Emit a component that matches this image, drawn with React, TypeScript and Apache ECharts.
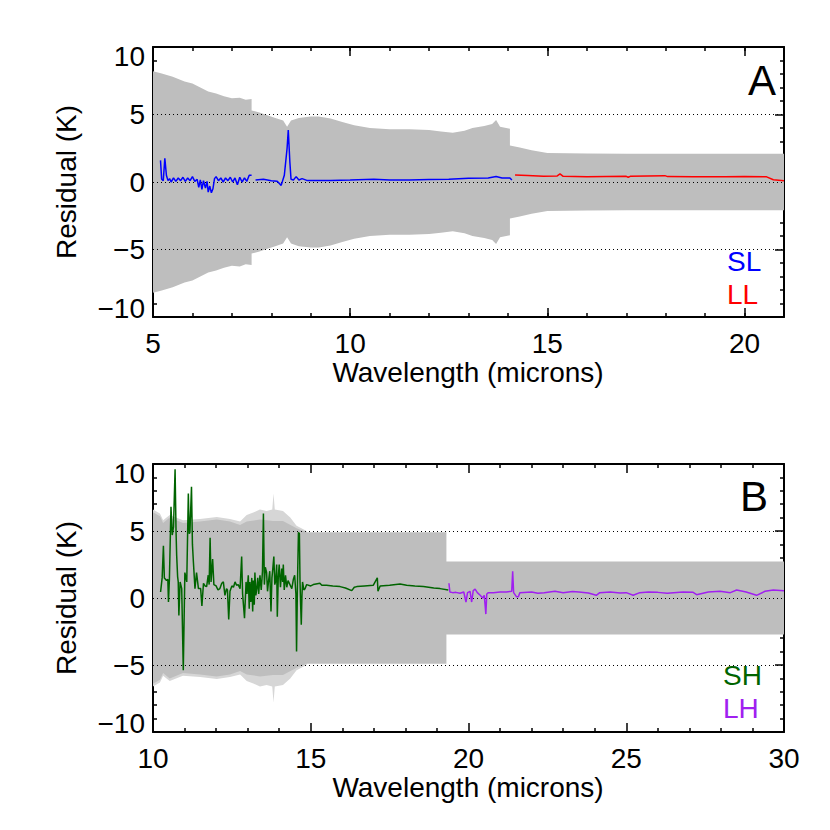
import React, { useEffect, useRef } from "react";
import * as echarts from "echarts";

// ---------- Panel A ----------
const bandA_wl = [5.0, 5.2, 5.5, 5.8, 6.0, 6.2, 6.4, 6.6, 6.8, 7.0, 7.2, 7.35, 7.5, 7.5, 7.7, 7.9, 8.1, 8.3, 8.4, 8.5, 8.7, 9.0, 9.2, 9.5, 9.8, 10.1, 10.5, 11.0, 11.5, 12.0, 12.3, 12.6, 12.9, 13.1, 13.4, 13.6, 13.7, 13.8, 14.05, 14.05, 14.3, 14.6, 15.0, 16.0, 17.0, 18.0, 19.0, 20.0, 21.0];
const bandA_err = [8.2, 8.05, 7.8, 7.45, 7.3, 7.0, 6.7, 6.55, 6.35, 6.2, 6.25, 6.1, 6.15, 5.3, 5.15, 4.95, 4.75, 4.55, 4.1, 4.55, 4.75, 4.85, 4.85, 4.7, 4.45, 4.2, 4.0, 3.9, 3.9, 3.85, 3.75, 3.65, 3.8, 4.0, 4.15, 4.3, 4.6, 4.1, 3.95, 2.7, 2.55, 2.35, 2.15, 2.12, 2.1, 2.1, 2.1, 2.1, 2.1];

const sl_wl = [5.19, 5.22, 5.26, 5.30, 5.34, 5.38, 5.42, 5.46, 5.52, 5.58, 5.64, 5.70, 5.76, 5.82, 5.88, 5.94, 6.00, 6.06, 6.12, 6.16, 6.20, 6.24, 6.28, 6.33, 6.37, 6.40, 6.44, 6.48, 6.52, 6.56, 6.60, 6.66, 6.72, 6.78, 6.84, 6.90, 6.96, 7.02, 7.08, 7.14, 7.20, 7.26, 7.32, 7.38, 7.44, 7.50,
  7.55,
  7.60, 7.8, 8.0, 8.15, 8.25, 8.33, 8.40, 8.43, 8.47, 8.50, 8.56, 8.63, 8.70, 8.78, 8.90, 9.5, 10.0, 10.6, 11.0, 11.5, 12.0, 12.5, 13.0, 13.5, 13.7, 13.85, 14.05, 14.1];
const sl_val = [1.6, 0.2, 0.1, 1.75, 0.5, 0.1, 0.25, 0.0, 0.3, 0.05, 0.3, 0.1, 0.35, 0.05, 0.3, 0.1, 0.4, 0.05, 0.2, -0.4, 0.15, -0.55, 0.1, -0.45, 0.05, -0.75, -0.3, -0.8, -0.5, 0.25, 0.4, 0.1, 0.3, 0.0, 0.3, 0.1, 0.35, 0.0, 0.3, -0.2, 0.35, 0.0, 0.3, 0.05, 0.5, 0.5,
  null,
  0.15, 0.2, 0.1, 0.05, -0.25, 0.5, 2.5, 3.85, 1.5, 0.2, 0.15, 0.4, 0.15, 0.25, 0.12, 0.12, 0.15, 0.2, 0.15, 0.15, 0.18, 0.2, 0.28, 0.3, 0.4, 0.3, 0.3, 0.15];

const ll_wl = [14.18, 14.5, 14.9, 15.25, 15.32, 15.4, 16.0, 16.5, 17.0, 17.05, 17.1, 17.98, 18.05, 18.7, 19.5, 20.0, 20.56, 20.73, 21.0];
const ll_val = [0.52, 0.48, 0.42, 0.45, 0.6, 0.42, 0.38, 0.4, 0.42, 0.35, 0.42, 0.47, 0.4, 0.38, 0.38, 0.4, 0.38, 0.17, 0.1];

// ---------- Panel B ----------
const bandBouter_wl = [10.0, 10.22, 10.32, 10.53, 10.95, 11.49, 12.02, 12.44, 12.76, 12.97, 13.2, 13.39, 13.6, 13.78, 13.82, 13.86, 14.12, 14.35, 14.55, 14.87];
const bandBouter_err = [6.6, 6.3, 5.8, 6.2, 5.8, 5.9, 6.05, 5.9, 5.7, 6.2, 6.4, 6.6, 6.5, 6.6, 7.8, 6.6, 6.5, 6.0, 5.4, 5.0];

const bandB_wl = [10.0, 10.22, 10.32, 10.53, 10.95, 11.49, 12.02, 12.44, 12.76, 12.97, 13.39, 13.8, 14.12, 14.55, 14.87, 19.3, 19.3, 30.0];
const bandB_err = [6.4, 6.1, 5.6, 6.0, 5.6, 5.7, 5.85, 5.7, 5.45, 5.7, 5.85, 5.75, 5.75, 5.2, 4.9, 4.9, 2.72, 2.72];

const sh_wl = [10.24, 10.29, 10.33, 10.36, 10.43, 10.47, 10.49, 10.52, 10.57, 10.61, 10.65, 10.70, 10.73, 10.75, 10.78, 10.80, 10.82, 10.86, 10.91, 10.96, 11.01, 11.07, 11.12, 11.15, 11.17, 11.22, 11.25, 11.28, 11.33, 11.38, 11.44, 11.51, 11.55, 11.60, 11.65, 11.70, 11.75, 11.78, 11.81, 11.84, 11.89, 11.93, 12.0, 12.06, 12.12, 12.18, 12.23, 12.28, 12.33, 12.36, 12.40, 12.44, 12.5, 12.55, 12.6, 12.65, 12.7, 12.76, 12.81, 12.84, 12.90, 12.95, 12.98, 13.02, 13.05, 13.07, 13.10, 13.13, 13.16, 13.18, 13.21, 13.23, 13.26, 13.29, 13.32, 13.35, 13.39, 13.43, 13.47, 13.50, 13.53, 13.56, 13.60, 13.63, 13.66, 13.70, 13.74, 13.77, 13.79, 13.83, 13.86, 13.89, 13.92, 13.94, 13.97, 14.0, 14.04, 14.08, 14.11, 14.13, 14.16, 14.20, 14.24, 14.28, 14.34, 14.40, 14.45, 14.49, 14.53, 14.55, 14.58, 14.61, 14.64, 14.66, 14.68, 14.70, 14.72, 14.74, 14.78, 14.82, 14.87, 15.0, 15.08, 15.29, 15.35, 15.5, 15.7, 15.93, 16.1, 16.3, 16.38, 16.46, 16.7, 16.98, 17.11, 17.13, 17.2, 17.5, 17.83, 18.04, 18.3, 18.57, 18.9, 19.1, 19.36];
const sh_val = [0.45, 1.5, 3.9, 1.5, 1.3, 1.4, -0.3, 1.4, 6.8, 4.7, 5.3, 9.6, 5.0, 3.2, 1.6, 1.2, -1.3, 1.2, 0.7, -5.4, 1.9, 1.2, 7.8, 4.8, 4.9, 8.3, 4.0, 2.7, 0.7, 1.9, 0.7, 0.7, -0.6, 1.1, 0.9, 0.85, 1.7, 1.0, 4.5, 1.2, 2.9, 1.0, 0.9, 0.6, 0.7, 1.1, 1.2, 0.2, 0.7, 0.6, -1.6, 0.5, 0.9, 0.8, 1.2, 0.95, 1.0, 0.7, 3.1, 0.3, -1.5, 1.2, 0.3, 1.7, -0.8, 1.2, -0.3, 1.5, -1.0, 1.3, -0.5, 1.9, 0.2, 0.7, 1.5, 0.3, 1.7, 0.6, 2.0, 6.3, 1.0, 2.3, 1.9, 0.5, 1.2, 2.0, -1.0, 1.5, 2.0, 3.1, 1.0, 1.3, 2.5, -1.4, 1.5, 2.5, 0.8, 2.2, 1.2, 2.5, 0.6, 1.7, 0.8, 1.3, 1.0, 0.7, 1.4, 1.7, 0.3, -4.0, 1.2, 4.9, 4.8, 1.2, -0.5, -2.0, 0.1, 1.2, 0.6, 0.7, 1.0, 0.9, 1.0, 1.1, 0.95, 0.95, 0.9, 0.85, 0.75, 0.55, 0.8, 0.85, 0.9, 0.95, 1.5, 0.5, 0.9, 0.95, 1.05, 0.95, 0.9, 0.85, 0.75, 0.7, 0.6];

const lh_wl = [19.38, 19.41, 19.5, 19.6, 19.73, 19.85, 19.92, 19.97, 20.05, 20.10, 20.15, 20.21, 20.28, 20.37, 20.45, 20.5, 20.55, 20.58, 20.63, 20.79, 21.0, 21.2, 21.37, 21.4, 21.43, 21.52, 21.58, 21.63, 22.0, 22.2, 22.4, 22.74, 23.0, 23.3, 23.5, 23.8, 24.05, 24.16, 24.5, 24.8, 25.0, 25.22, 25.43, 25.7, 26.0, 26.3, 26.5, 26.8, 27.12, 27.23, 27.6, 27.97, 28.3, 28.5, 28.8, 29.13, 29.4, 29.66, 30.0];
const lh_val = [1.1, 0.45, 0.4, 0.42, 0.35, 0.45, -0.3, 0.4, 0.5, -0.3, 0.55, 0.67, 0.4, 0.2, 0.0, 0.2, -1.2, 0.3, 0.4, 0.4, 0.45, 0.45, 0.5, 2.0, 0.4, 0.1, 0.1, 0.4, 0.45, 0.35, 0.4, 0.5, 0.4, 0.48, 0.45, 0.38, 0.2, 0.4, 0.45, 0.38, 0.4, 0.2, 0.4, 0.45, 0.42, 0.35, 0.4, 0.45, 0.42, 0.25, 0.45, 0.5, 0.4, 0.6, 0.45, 0.2, 0.5, 0.6, 0.55];

const yTicks = [-10, -5, 0, 5, 10];
const dottedLevels = [-5, 0, 5];

const FONT = "'Liberation Sans', Arial, Helvetica, sans-serif";
const BAND = "#bebebe";
const BAND_FUZZ = "#d6d6d6";

const zip = (xs: number[], ys: (number | null)[]) => xs.map((x, i) => [x, ys[i]]);
const neg = (ys: number[]) => ys.map((v) => -v);

function xAxisDef(gridIndex: number, min: number, max: number, position: string, labels: boolean, minor: boolean, interval = 5, tickLen = 9) {
  return {
    type: "value",
    gridIndex,
    min,
    max,
    interval,
    position,
    axisLine: { show: tickLen === 9, onZero: false, lineStyle: { color: "#000", width: 2 } },
    axisTick: { show: true, inside: true, length: tickLen, lineStyle: { color: "#000", width: 1.5 } },
    minorTick: { show: minor, splitNumber: 5, length: 4, lineStyle: { color: "#000", width: 1.5 } },
    axisLabel: {
      show: labels,
      color: "#000",
      fontSize: 28,
      fontFamily: FONT,
      margin: 12,
      showMaxLabel: max % interval === 0,
    },
    splitLine: { show: false },
  };
}

function yAxisDef(gridIndex: number, position: string, labels: boolean) {
  return {
    type: "value",
    gridIndex,
    min: yTicks[0],
    max: yTicks[yTicks.length - 1],
    interval: 5,
    position,
    axisLine: { show: true, onZero: false, lineStyle: { color: "#000", width: 2 } },
    axisTick: { show: true, inside: true, length: 9, lineStyle: { color: "#000", width: 1.5 } },
    minorTick: { show: true, splitNumber: 5, length: 4, lineStyle: { color: "#000", width: 1.5 } },
    axisLabel: {
      show: labels,
      color: "#000",
      fontSize: 28,
      lineHeight: 18,
      fontFamily: FONT,
      margin: 8,
      verticalAlignMaxLabel: "top",
      verticalAlignMinLabel: "bottom",
      formatter: (v: number) => (v < 0 ? "\u2212" + Math.abs(v) : String(v)),
    },
    splitLine: { show: false },
  };
}

function bandSeries(xi: number, yi: number, wl: number[], err: number[], color: string, z: number) {
  const base = {
    type: "line",
    xAxisIndex: xi,
    yAxisIndex: yi,
    symbol: "none",
    silent: true,
    z,
    lineStyle: { width: 0 },
    areaStyle: { color, opacity: 1 },
  };
  return [
    { ...base, data: zip(wl, err) },
    { ...base, data: zip(wl, neg(err)) },
  ];
}

function dottedSeries(xi: number, yi: number, x0: number) {
  return {
    type: "line",
    xAxisIndex: xi,
    yAxisIndex: yi,
    symbol: "none",
    silent: true,
    z: 3,
    lineStyle: { opacity: 0 },
    data: [[x0, 0]],
    markLine: {
      silent: true,
      symbol: "none",
      label: { show: false },
      lineStyle: { color: "#000", width: 1, type: [1, 3], opacity: 1 },
      data: dottedLevels.map((v) => ({ yAxis: v })),
    },
  };
}

function lineSeries(xi: number, yi: number, wl: number[], vals: (number | null)[], color: string) {
  return {
    type: "line",
    xAxisIndex: xi,
    yAxisIndex: yi,
    symbol: "none",
    silent: true,
    z: 5,
    connectNulls: false,
    lineStyle: { color, width: 1.5 },
    data: zip(wl, vals),
  };
}

const txt = (text: string, x: number, y: number, size: number, color: string, align = "left", rotation = 0) => ({
  type: "text",
  x,
  y,
  rotation,
  z: 100,
  style: {
    text,
    fill: color,
    fontSize: size,
    fontFamily: FONT,
    textAlign: align,
    textVerticalAlign: "middle",
  },
});

export default function App() {
  const ref = useRef<HTMLDivElement>(null);
  useEffect(() => {
    if (!ref.current) return;
    const chart = echarts.init(ref.current, undefined, { renderer: "svg" });
    const option = {
      animation: false,
      backgroundColor: "#fff",
      grid: [
        { left: 153, top: 47, width: 631, height: 270 },
        { left: 153, top: 464, width: 631, height: 268 },
      ],
      xAxis: [
        xAxisDef(0, 5, 21, "bottom", true, false),
        xAxisDef(0, 5, 21, "top", false, false),
        xAxisDef(1, 10, 30, "bottom", true, true),
        xAxisDef(1, 10, 30, "top", false, true),
        xAxisDef(0, 5, 21, "bottom", false, false, 1, 4),
        xAxisDef(0, 5, 21, "top", false, false, 1, 4),
      ],
      yAxis: [
        yAxisDef(0, "left", true),
        yAxisDef(0, "right", false),
        yAxisDef(1, "left", true),
        yAxisDef(1, "right", false),
      ],
      series: [
        ...bandSeries(0, 0, bandA_wl, bandA_err, BAND, 1),
        dottedSeries(0, 0, 5),
        lineSeries(0, 0, sl_wl, sl_val, "#0000ff"),
        lineSeries(0, 0, ll_wl, ll_val, "#ff0000"),
        ...bandSeries(2, 2, bandBouter_wl, bandBouter_err, BAND_FUZZ, 1),
        ...bandSeries(2, 2, bandB_wl, bandB_err, BAND, 2),
        dottedSeries(2, 2, 10),
        lineSeries(2, 2, sh_wl, sh_val, "#006400"),
        lineSeries(2, 2, lh_wl, lh_val, "#a020f0"),
      ],
      graphic: [
        txt("A", 776, 80, 42, "#000", "right"),
        txt("SL", 727, 261, 28, "#0000ff"),
        txt("LL", 727, 294, 28, "#ff0000"),
        txt("B", 768, 496, 42, "#000", "right"),
        txt("SH", 723, 675, 28, "#006400"),
        txt("LH", 723, 708, 28, "#a020f0"),
        txt("Residual (K)", 66, 182, 28, "#000", "center", Math.PI / 2),
        txt("Residual (K)", 66, 598, 28, "#000", "center", Math.PI / 2),
        txt("Wavelength (microns)", 468, 372, 28, "#000", "center"),
        txt("Wavelength (microns)", 468, 787, 28, "#000", "center"),
      ],
    };
    chart.setOption(option as any);
    return () => chart.dispose();
  }, []);
  return <div ref={ref} style={{ width: 830, height: 830, position: "absolute", left: 0, top: 0 }} />;
}
